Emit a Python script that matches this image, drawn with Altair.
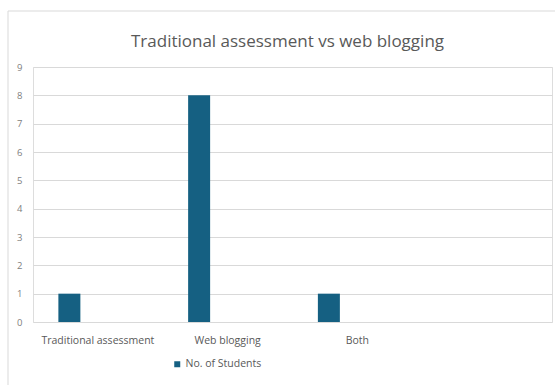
import altair as alt
import pandas as pd

# Survey responses: preferred assessment method
categories = ["Traditional assessment", "Web blogging", "Both"]
students = [1, 8, 1]
series_name = "No. of Students"

# the category axis keeps a fourth, unused slot
axis_slots = categories + [" "]

df = pd.DataFrame({
    "method": categories,
    "count": students,
    "series": [series_name] * len(categories),
})

bar_color = "#156082"
text_gray = "#595959"
grid_gray = "#d9d9d9"

bars = alt.Chart(df).mark_bar(size=22, xOffset=-28.5).encode(
    x=alt.X(
        "method:N",
        sort=axis_slots,
        scale=alt.Scale(domain=axis_slots, paddingInner=0, paddingOuter=0),
        axis=alt.Axis(
            title=None, labelAngle=0, ticks=False, domain=False,
            labelColor=text_gray, labelFontSize=10.5, labelPadding=13,
            labelFont="Open Sans",
        ),
    ),
    y=alt.Y(
        "count:Q",
        scale=alt.Scale(domain=[0, 9], nice=False),
        axis=alt.Axis(
            title=None, values=list(range(10)), ticks=False, domain=False,
            labelColor="#808080", labelFontSize=9.5, labelPadding=11,
            labelFont="Open Sans", gridColor=grid_gray, gridWidth=1,
        ),
    ),
    color=alt.Color(
        "series:N",
        scale=alt.Scale(domain=[series_name], range=[bar_color]),
        legend=alt.Legend(
            title=None, orient="none", legendX=139, legendY=292,
            symbolType="square", symbolSize=36, symbolStrokeWidth=0,
            labelColor=text_gray, labelFontSize=10.5, labelFont="Open Sans",
            labelOffset=3,
        ),
    ),
)

# thin frame lines along the top and left edges of the chart area
frame_df = pd.DataFrame({"k": [0]})
frame_top = alt.Chart(frame_df).mark_rule(color=grid_gray, strokeWidth=1).encode(
    x=alt.value(-25), x2=alt.value(522), y=alt.value(-56),
)
frame_left = alt.Chart(frame_df).mark_rule(color=grid_gray, strokeWidth=1).encode(
    x=alt.value(-25), y=alt.value(-56), y2=alt.value(330),
)

chart = alt.layer(frame_top, frame_left, bars).properties(
    width=519,
    height=255,
    title=alt.TitleParams(
        "Traditional assessment vs web blogging",
        anchor="middle", dx=-5, offset=-40, fontSize=17,
        font="Open Sans", fontWeight="normal", color=text_gray,
    ),
    autosize=alt.AutoSizeParams(type="none"),
    padding={"left": 33, "top": 67, "right": 5, "bottom": 63},
).configure_view(stroke=None).configure(background="white")

chart.save("out.html", embed_options={"renderer": "svg", "actions": False})
